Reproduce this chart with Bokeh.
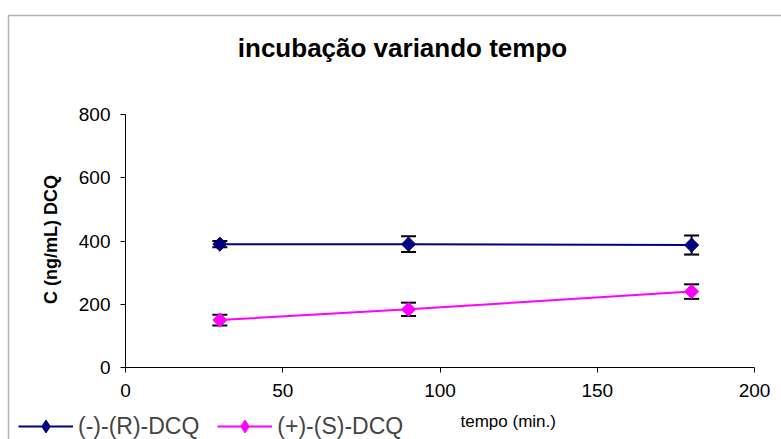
import numpy as np
from bokeh.plotting import figure
from bokeh.models import (ColumnDataSource, Whisker, TeeHead, Legend, LegendItem,
                          Label, BoxAnnotation, Range1d, FixedTicker)
from bokeh.embed import file_html
from bokeh.resources import INLINE

# ---- data ----
tempo = [30, 90, 180]
r_dcq = [390, 390, 387]
r_err = [10, 25, 30]
s_dcq = [150, 184, 240]
s_err = [17, 21, 23]
x_ticks = [0, 50, 100, 150, 200]
y_ticks = [0, 200, 400, 600, 800]
series_names = ["(-)-(R)-DCQ", "(+)-(S)-DCQ"]
title_text = "incubação variando tempo"
x_label = "tempo (min.)"
y_label = "C (ng/mL) DCQ"

FONT = "Liberation Sans"
NAVY = "#000080"
MAGENTA = "#FF00FF"

W, H = 781, 439
# plot-area placement in the canvas (pixels)
PL, PR, PT, PB = 125, 754, 114, 367
xs = (PR - PL) / 200.0
ys = (PB - PT) / 800.0

p = figure(width=W, height=H,
           x_range=Range1d(-PL / xs, 200 + (W - PR) / xs),
           y_range=Range1d(-(H - PB) / ys, 800 + PT / ys),
           output_backend="svg", toolbar_location=None,
           min_border_left=0, min_border_right=0, min_border_top=0, min_border_bottom=0)
p.outline_line_color = None
p.xgrid.grid_line_color = None
p.ygrid.grid_line_color = None
p.background_fill_color = "white"
p.border_fill_color = "white"

for ax in (p.xaxis[0], p.yaxis[0]):
    ax.fixed_location = 0
    ax.axis_line_color = "black"
    ax.major_tick_line_color = "black"
    ax.major_tick_out = 5
    ax.major_tick_in = 0
    ax.minor_tick_line_color = None
    ax.major_label_text_font = FONT
    ax.major_label_text_font_size = "19px"
    ax.major_label_text_color = "black"

p.xaxis.ticker = FixedTicker(ticks=x_ticks)
p.yaxis.ticker = FixedTicker(ticks=y_ticks)
p.xaxis.bounds = (0, 200)
p.yaxis.bounds = (0, 800)
p.xaxis.major_label_standoff = 11
p.yaxis.major_label_standoff = 10

r_src = ColumnDataSource(dict(x=tempo, y=r_dcq,
                              lo=[v - e for v, e in zip(r_dcq, r_err)],
                              hi=[v + e for v, e in zip(r_dcq, r_err)]))
s_src = ColumnDataSource(dict(x=tempo, y=s_dcq,
                              lo=[v - e for v, e in zip(s_dcq, s_err)],
                              hi=[v + e for v, e in zip(s_dcq, s_err)]))

items = []
for src, col, name in ((r_src, NAVY, series_names[0]), (s_src, MAGENTA, series_names[1])):
    ln = p.line("x", "y", source=src, line_color=col, line_width=2)
    w = Whisker(base="x", lower="lo", upper="hi", source=src, dimension="height",
                line_color="black", line_width=2,
                upper_head=TeeHead(size=15, line_color="black", line_width=2),
                lower_head=TeeHead(size=15, line_color="black", line_width=2))
    p.add_layout(w)
    p.scatter("x", "y", source=src, marker="square", angle=np.pi / 4, size=10,
              fill_color=col, line_color=col)
    # legend-only marker (legend glyphs ignore the rotation angle); hidden in the plot
    leg_marker = p.scatter("x", "y", source=src, marker="diamond", size=14,
                           fill_color=col, line_color=col, visible=False)
    items.append(LegendItem(label=name, renderers=[ln, leg_marker]))

legend = Legend(items=items, orientation="horizontal", location=(18, -3),
                label_text_font=FONT, label_text_font_size="23px",
                glyph_width=55, glyph_height=32, label_standoff=5, spacing=18,
                padding=0, margin=0, border_line_color=None, background_fill_alpha=0)
p.add_layout(legend, "center")

p.add_layout(Label(x=402, y=H - 47, x_units="screen", y_units="screen", text=title_text,
                   text_font=FONT, text_font_style="bold", text_font_size="26px",
                   text_align="center", text_baseline="alphabetic", text_color="black"))
p.add_layout(Label(x=460, y=H - 421, x_units="screen", y_units="screen", text=x_label,
                   text_font=FONT, text_font_size="17px",
                   text_align="left", text_baseline="alphabetic", text_color="black"))
p.add_layout(Label(x=50, y=H - 239, x_units="screen", y_units="screen", text=y_label,
                   angle=np.pi / 2,
                   text_font=FONT, text_font_style="bold", text_font_size="18px",
                   text_align="center", text_baseline="alphabetic", text_color="black"))

p.add_layout(BoxAnnotation(left=8, right=W + 50, top=H - 15, bottom=-50,
                           left_units="screen", right_units="screen",
                           top_units="screen", bottom_units="screen",
                           fill_alpha=0, line_color="black", line_width=1.5))

open("out.html", "w").write(file_html(p, INLINE))
